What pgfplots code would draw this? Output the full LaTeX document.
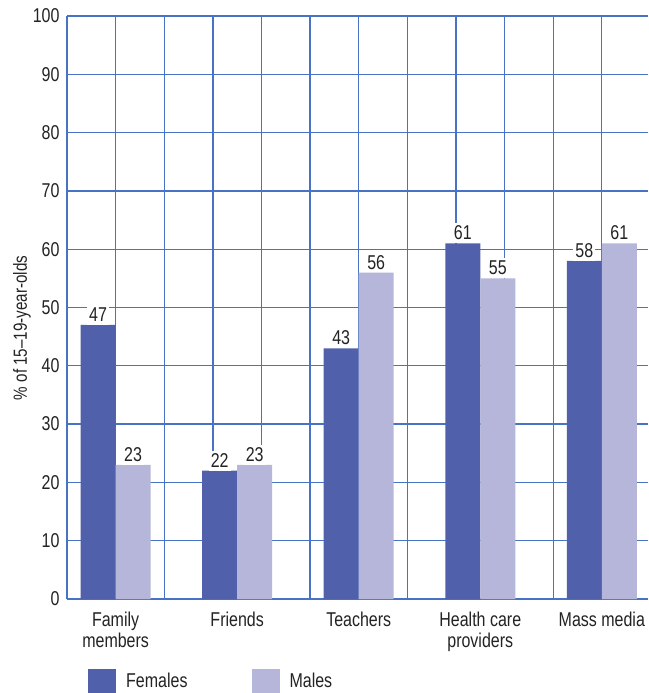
\documentclass[border=0pt]{standalone}
\usepackage{pgfplots}
\pgfplotsset{compat=1.18}
\usepackage{fontspec}
\setmainfont{Liberation Sans}[FakeStretch=0.8]

\definecolor{gridblue}{RGB}{72,114,196}
\definecolor{femcol}{RGB}{81,96,170}
\definecolor{malecol}{RGB}{181,182,217}
\definecolor{txt}{RGB}{35,35,35}

% Sources of information, by sex (% of 15-19-year-olds)
% x positions: category centres on a grid of unit columns
\pgfplotstableread{
x     val
1     47
3.5   22
6     43
8.5   61
11    58
}\females
\pgfplotstableread{
x     val
1     23
3.5   23
6     56
8.5   55
11    61
}\males

\begin{document}
\begin{tikzpicture}[font=\fontsize{20}{21}\selectfont, text=txt]
\begin{axis}[
  scale only axis,
  width=581pt, height=583pt,
  xmin=0, xmax=11.95, ymin=0, ymax=100,
  ybar=0pt, bar width=0.72,
  axis lines=left,
  axis line style={-, draw=gridblue, line width=1.3pt},
  xtick={1,3.5,6,8.5,11},
  xticklabels={{Family\\members},Friends,Teachers,{Health care\\providers},Mass media},
  xticklabel style={align=center, yshift=-9pt},
  minor xtick={0,1,...,11},
  xmajorgrids=false, xminorgrids=true,
  ytick={0,10,...,100},
  ymajorgrids=true,
  grid style={draw=gridblue, line width=1.3pt},
  minor grid style={draw=gridblue, line width=1.3pt},
  major tick length=0pt, minor tick length=0pt,
  yticklabel style={xshift=-4pt},
  /pgf/number format/assume math mode=true,
  ylabel={\% of 15--19-year-olds},
  ylabel style={at={(ticklabel cs:0.465)}, yshift=-5pt, font=\fontsize{19}{21}\selectfont},
  nodes near coords,
  nodes near coords style={fill=white, inner xsep=2pt, inner ysep=3pt, anchor=south},
  legend style={at={(rel axis cs:0,0)}, anchor=north west, xshift=21pt, yshift=-70pt,
    draw=none, fill=none, inner sep=0pt, legend columns=2,
    /tikz/every even column/.append style={column sep=54pt},
    nodes={inner xsep=10pt}},
  legend image code/.code={\path[#1, draw=none] (0pt,-12pt) rectangle (28pt,12pt);},
]
\addplot[fill=femcol, draw=none] table[x=x, y=val] {\females};
\addplot[fill=malecol, draw=none] table[x=x, y=val] {\males};
\legend{Females, Males}
\end{axis}
\pgfresetboundingbox
\path ([shift={(-67pt,-94pt)}]current axis.south west) rectangle ([shift={(581pt,599pt)}]current axis.south west);
\end{tikzpicture}
\end{document}
